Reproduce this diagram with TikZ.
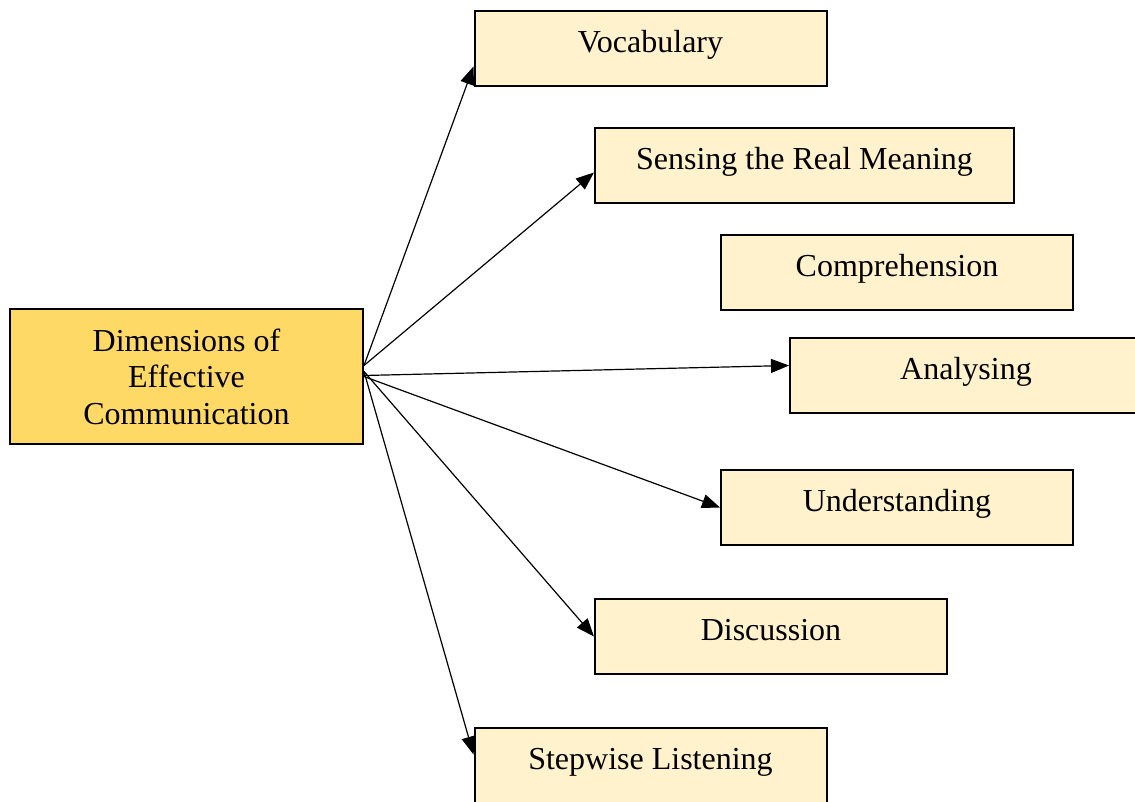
\documentclass[tikz,border=0pt]{standalone}
\usepackage{fontspec}
\setmainfont{Liberation Serif}
\usetikzlibrary{arrows.meta,calc}
\definecolor{gold}{HTML}{FFD966}
\definecolor{lightgold}{HTML}{FFF2CC}
\begin{document}
\begin{tikzpicture}[x=1pt,y=-1pt,
  every node/.style={font=\fontsize{32}{36.5}\selectfont},
  box/.style={draw=black, line width=2pt, fill=lightgold, inner sep=0pt,
    minimum width=352pt, text height=41.5pt, text depth=33.5pt, anchor=north west},
  mainbox/.style={draw=black, line width=2pt, fill=gold, inner sep=0pt,
    minimum width=353pt, minimum height=134pt, align=center, anchor=north west},
  arr/.style={line width=1.2pt, -{Triangle[length=18pt,width=14pt]}}
]
\useasboundingbox (0,0) rectangle (1135,802);
\clip (0,0) rectangle (1135,802);

\node[mainbox] (main) at (9,308.5) {Dimensions of\\Effective\\Communication};

\node[box] (voc) at (473.5,10.5) {Vocabulary};
\node[box, minimum width=419pt] (sen) at (594,127.5) {Sensing the Real Meaning};
\node[box] (com) at (720,234) {Comprehension};
\node[box] (ana) at (789,337) {Analysing};
\node[box] (und) at (720,469) {Understanding};
\node[box] (dis) at (594,598) {Discussion};
\node[box] (ste) at (473.5,727) {Stepwise Listening};

\coordinate (up) at ($(main.east)+(0,-11)$);
\coordinate (mid) at ($(main.east)+(0,-1)$);
\coordinate (lo) at ($(main.east)+(0,-5)$);

\draw[arr] (up) -- ($(voc.south west)+(0,-21)$);
\draw[arr] (up) -- ($(sen.west)+(0,6.5)$);
\draw[arr] (mid) -- ($(ana.west)+(0,-10)$);
\draw[arr] (main.east) -- (und.west);
\draw[arr] (lo) -- (dis.west);
\draw[arr] (lo) -- ($(ste.north west)+(0,27.5)$);
\end{tikzpicture}
\end{document}
